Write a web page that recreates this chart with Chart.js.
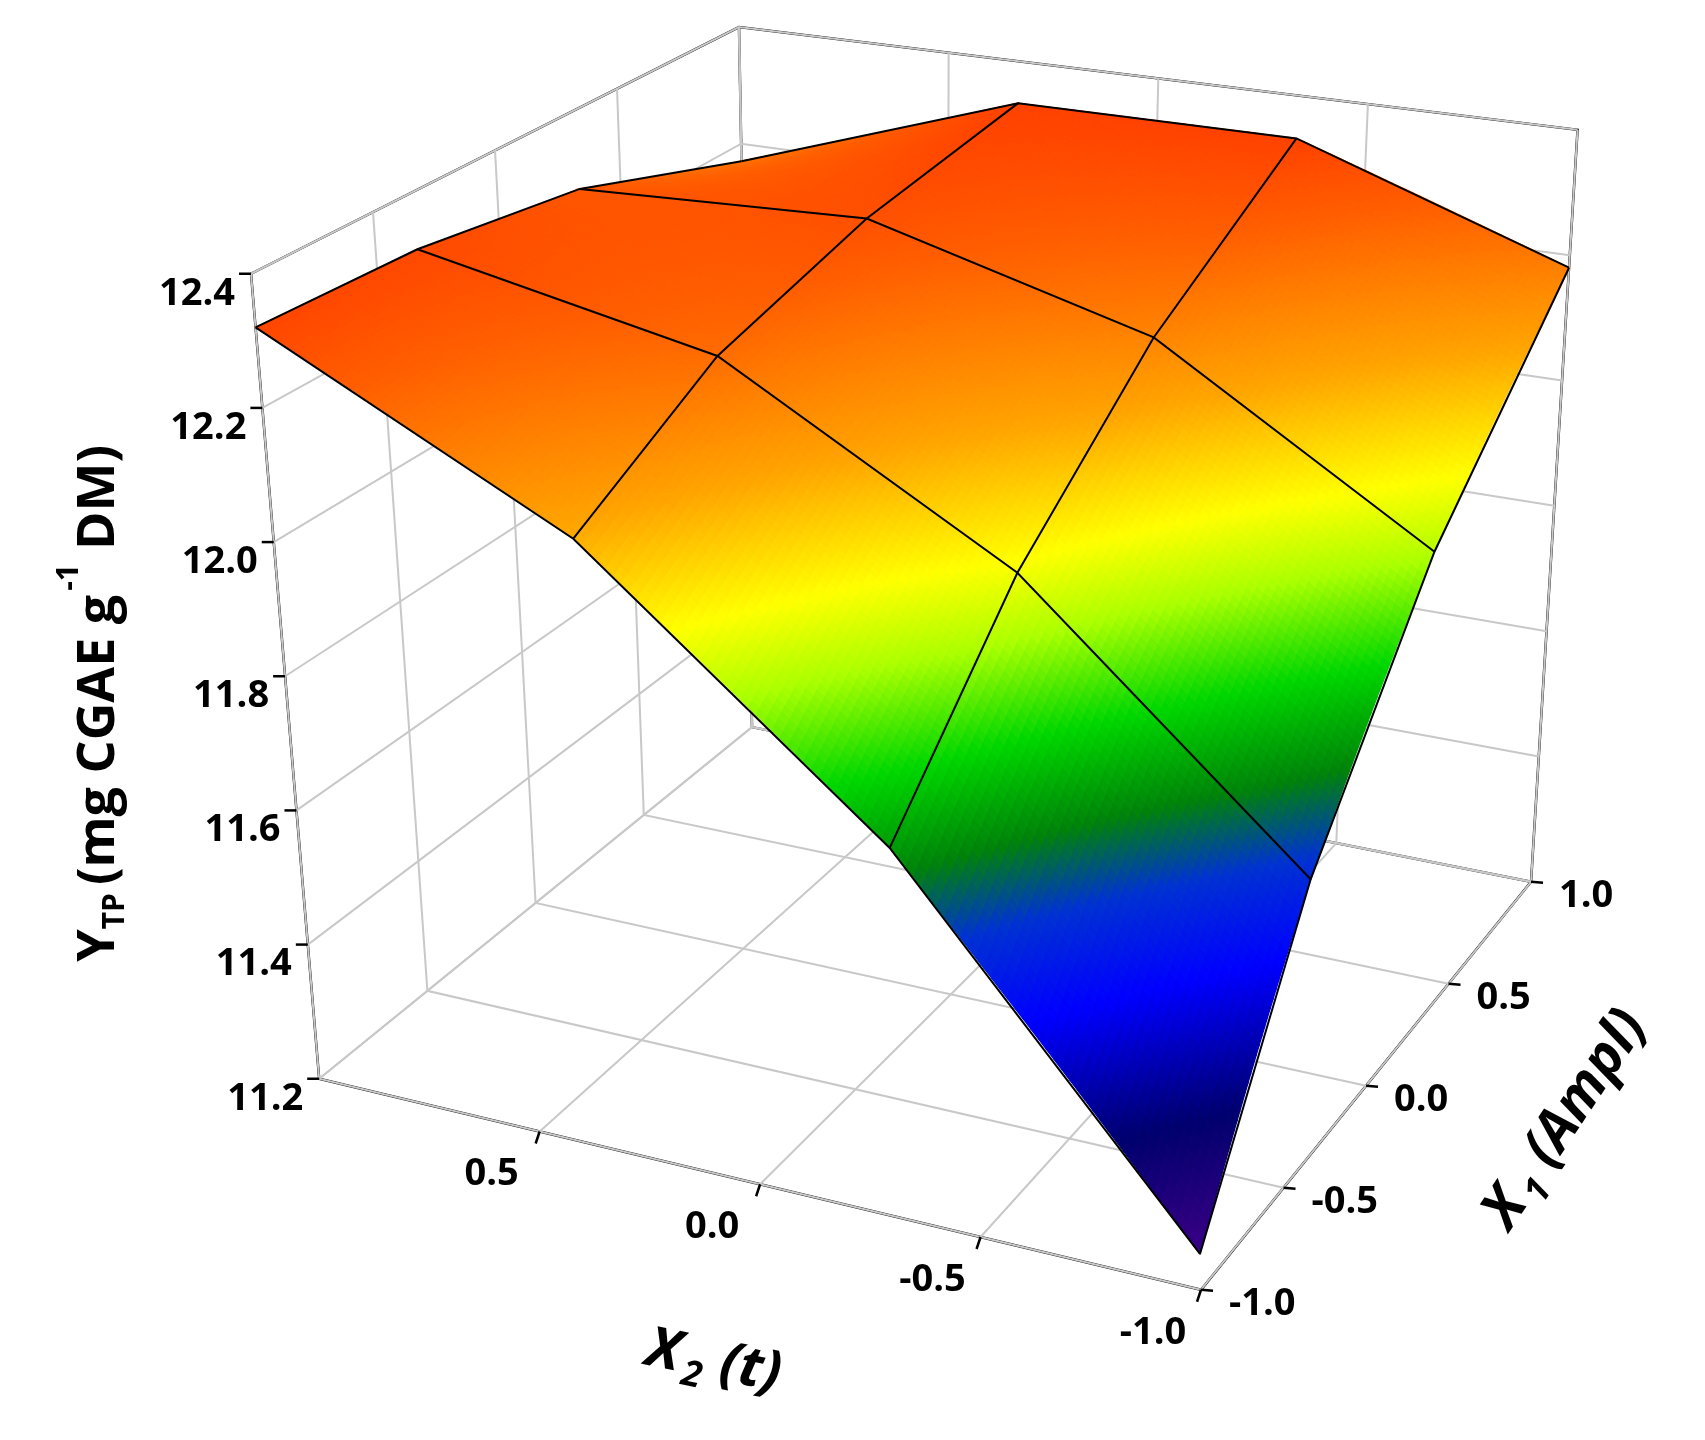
<!DOCTYPE html>
<html><head><meta charset="utf-8">
<script src="https://cdn.jsdelivr.net/npm/chart.js@4"></script>
<style>html,body{margin:0;padding:0;background:#fff}#wrap{width:1705px;height:1440px}</style>
</head><body><div id="wrap"><canvas id="c"></canvas></div>
<script>
// ---- data ----
const x1Grid = [-1, -1/3, 1/3, 1];          // X1 (Ampl)
const x2Grid = [-1, -1/3, 1/3, 1];          // X2 (t)
// Y_TP values: rows = x1Grid, cols = x2Grid
const yTP_x1m1   = [11.25, 11.73, 12.09, 12.32];
const yTP_x1m033 = [11.60, 11.97, 12.22, 12.31];
const yTP_x1p033 = [11.91, 12.17, 12.29, 12.27];
const yTP_x1p1   = [12.18, 12.33, 12.33, 12.17];
const zTicks = [11.2, 11.4, 11.6, 11.8, 12.0, 12.2, 12.4];
const x1Ticks = [-1.0, -0.5, 0.0, 0.5, 1.0];
const x2Ticks = [-1.0, -0.5, 0.0, 0.5];
const zRows = [yTP_x1m1, yTP_x1m033, yTP_x1p033, yTP_x1p1];
const ZMIN = 11.2, ZMAX = 12.4;

// ---- view (box corners in page pixels) ----
const K = 1.082;
const P = (x,y)=>[x*K,y*K];
const A=P(295,997), B=P(1110,1192), C=P(1415,815), D=P(695,672);
const At=P(232,253), Bt=P(1087,398), Ct=P(1458,120), Dt=P(683,25);
function bil(a,b,c,d,s,r){
  return [a[0]*(1-s)*(1-r)+b[0]*s*(1-r)+c[0]*s*r+d[0]*(1-s)*r,
          a[1]*(1-s)*(1-r)+b[1]*s*(1-r)+c[1]*s*r+d[1]*(1-s)*r];
}
function proj(x1,x2,z){
  const s=(1-x2)/2, r=(x1+1)/2, t=(z-ZMIN)/(ZMAX-ZMIN);
  const p0=bil(A,B,C,D,s,r), p1=bil(At,Bt,Ct,Dt,s,r);
  return {x:p0[0]+(p1[0]-p0[0])*t, y:p0[1]+(p1[1]-p0[1])*t};
}
const cstops=[[11.2,[70,10,150]],[11.27,[50,0,130]],[11.38,[0,0,110]],[11.52,[0,0,255]],[11.62,[0,50,210]],[11.70,[0,130,10]],[11.80,[0,215,0]],[11.9,[170,255,0]],[11.98,[255,255,0]],[12.1,[255,165,0]],[12.25,[255,95,0]],[12.4,[255,40,0]]];
function cmap(z){
  if(z<=cstops[0][0]) return cstops[0][1];
  for(let i=1;i<cstops.length;i++){ if(z<=cstops[i][0]){const a=cstops[i-1],b=cstops[i];const f=(z-a[0])/(b[0]-a[0]);
    return a[1].map((v,k)=>Math.round(v+(b[1][k]-v)*f));}}
  return cstops[cstops.length-1][1];
}
const lineDs=(pts,color,w)=>({type:'scatter',data:pts,showLine:true,borderColor:color,borderWidth:w,pointRadius:0,fill:false});
const datasets=[];
const G='#c8c8c8';
zTicks.forEach(z=>{ datasets.push(lineDs([proj(-1,1,z),proj(1,1,z),proj(1,-1,z)],G,2)); });
x1Ticks.forEach(v=>{ datasets.push(lineDs([proj(v,1,ZMAX),proj(v,1,ZMIN),proj(v,-1,ZMIN)],G,2)); });
[-1,-0.5,0,0.5,1].forEach(v=>{ datasets.push(lineDs([proj(1,v,ZMAX),proj(1,v,ZMIN),proj(-1,v,ZMIN)],G,2)); });
datasets.push(lineDs([proj(-1,1,ZMAX),proj(-1,1,ZMIN)],'#000',2.5));
datasets.push(lineDs([proj(-1,1,ZMAX),proj(1,1,ZMAX),proj(1,-1,ZMAX),proj(1,-1,ZMIN)],'#000',2.5));
datasets.push(lineDs([proj(1,1,ZMAX),proj(1,1,ZMIN)],'#000',2.5));
datasets.push(lineDs([proj(1,1,ZMIN),proj(1,-1,ZMIN)],'#000',2.5));
datasets.push(lineDs([proj(-1,1,ZMIN),proj(-1,-1,ZMIN),proj(1,-1,ZMIN)],'#000',2.5));

const surfacePlugin={id:'surface',afterDatasetsDraw(chart){
  const ctx=chart.ctx, sx=chart.scales.x, sy=chart.scales.y;
  const px=p=>[sx.getPixelForValue(p.x),sy.getPixelForValue(p.y)];
  const N=40, quads=[];
  for(let i=0;i<3;i++)for(let j=0;j<3;j++){
    const z00=zRows[i][j],z01=zRows[i][j+1],z10=zRows[i+1][j],z11=zRows[i+1][j+1];
    for(let a=0;a<N;a++)for(let b=0;b<N;b++){
      const pts=[[a,b],[a+1,b],[a+1,b+1],[a,b+1]].map(([u,v])=>{
        const fu=u/N,fv=v/N;
        const x1=x1Grid[i]+(x1Grid[i+1]-x1Grid[i])*fu, x2=x2Grid[j]+(x2Grid[j+1]-x2Grid[j])*fv;
        const z=z00*(1-fu)*(1-fv)+z10*fu*(1-fv)+z01*(1-fu)*fv+z11*fu*fv;
        return {x1,x2,z};});
      const zm=pts.reduce((s,p)=>s+p.z,0)/4;
      const cx1=pts.reduce((s,p)=>s+p.x1,0)/4, cx2=pts.reduce((s,p)=>s+p.x2,0)/4;
      quads.push({pts,zm,key:(cx1+1)/2+(1+cx2)/2});
    }
  }
  quads.sort((p,q)=>q.key-p.key);
  ctx.save();ctx.lineWidth=1.2;
  quads.forEach(q=>{
    const c=cmap(q.zm), col=`rgb(${c[0]},${c[1]},${c[2]})`;
    ctx.beginPath();
    q.pts.forEach((p,k)=>{const v=px(proj(p.x1,p.x2,p.z));k?ctx.lineTo(v[0],v[1]):ctx.moveTo(v[0],v[1]);});
    ctx.closePath();ctx.fillStyle=col;ctx.strokeStyle=col;ctx.fill();ctx.stroke();
  });
  ctx.strokeStyle='#000';ctx.lineWidth=2;
  for(let i=0;i<4;i++){ctx.beginPath();for(let j=0;j<4;j++){const v=px(proj(x1Grid[i],x2Grid[j],zRows[i][j]));j?ctx.lineTo(v[0],v[1]):ctx.moveTo(v[0],v[1]);}ctx.stroke();}
  for(let j=0;j<4;j++){ctx.beginPath();for(let i=0;i<4;i++){const v=px(proj(x1Grid[i],x2Grid[j],zRows[i][j]));i?ctx.lineTo(v[0],v[1]):ctx.moveTo(v[0],v[1]);}ctx.stroke();}
  ctx.fillStyle='#000';ctx.lineWidth=2.5;
  ctx.font='bold 38px "Open Sans", Lato, sans-serif';
  zTicks.forEach(z=>{const v=px(proj(-1,1,z));ctx.beginPath();ctx.moveTo(v[0],v[1]);ctx.lineTo(v[0]-12,v[1]);ctx.stroke();
    ctx.textAlign='right';ctx.textBaseline='middle';ctx.fillText(z.toFixed(1),v[0]-16,v[1]+20);});
  x2Ticks.forEach(t=>{const v=px(proj(-1,t,ZMIN));ctx.beginPath();ctx.moveTo(v[0],v[1]);ctx.lineTo(v[0]-4,v[1]+12);ctx.stroke();
    ctx.textAlign='center';ctx.textBaseline='top';ctx.fillText(t.toFixed(1),v[0]-48,v[1]+24);});
  x1Ticks.forEach(t=>{const v=px(proj(t,-1,ZMIN));ctx.beginPath();ctx.moveTo(v[0],v[1]);ctx.lineTo(v[0]+12,v[1]+1);ctx.stroke();
    ctx.textAlign='left';ctx.textBaseline='middle';ctx.fillText(t.toFixed(1),v[0]+28,v[1]+14);});
  const BIG='bold 52px "Open Sans", sans-serif', SM='bold 30px "Open Sans", sans-serif';
  ctx.save();ctx.translate(92*K,650*K);ctx.rotate(-Math.PI/2);
  ctx.textAlign='left';ctx.textBaseline='middle';
  const w=s=>ctx.measureText(s).width;
  ctx.font=BIG;let tot=w('Y')+w('(mg CGAE g')+w('DM)');ctx.font=SM;tot+=w('TP')+w('-1')+26;
  let xs=-tot/2;
  ctx.font=BIG;ctx.fillText('Y',xs,0);xs+=w('Y');ctx.font=SM;ctx.fillText('TP',xs,16);xs+=w('TP')+8;
  ctx.font=BIG;ctx.fillText('(mg CGAE g',xs,0);xs+=w('(mg CGAE g');
  ctx.font=SM;ctx.fillText('-1',xs+4,-30);xs+=w('-1')+18;
  ctx.font=BIG;ctx.fillText('DM)',xs,0);ctx.restore();
  const IB='italic bold 56px "Open Sans", sans-serif', IS='italic bold 36px "Open Sans", sans-serif';
  ctx.save();ctx.translate(675*K,1262*K);ctx.rotate(0.2);ctx.font=IB;ctx.textAlign='left';ctx.textBaseline='middle';
  ctx.fillText('X',-85,0);ctx.font=IS;ctx.fillText('2',-46,18);ctx.font=IB;ctx.fillText('(t)',-10,0);ctx.restore();
  ctx.save();ctx.translate(1460*K,1015*K);ctx.rotate(-0.98);ctx.font=IB;ctx.textAlign='left';ctx.textBaseline='middle';
  ctx.fillText('X',-150,0);ctx.font=IS;ctx.fillText('1',-110,18);ctx.font=IB;ctx.fillText('(Ampl)',-75,0);ctx.restore();
  ctx.restore();
}};
new Chart(document.getElementById('c'),{type:'scatter',data:{datasets},
 options:{responsive:true,maintainAspectRatio:false,animation:false,layout:{padding:0},
  plugins:{legend:{display:false},tooltip:{enabled:false}},
  scales:{x:{type:'linear',min:0,max:1705,display:false},y:{type:'linear',min:0,max:1440,reverse:true,display:false}}},
 plugins:[surfacePlugin]});
</script></body></html>
